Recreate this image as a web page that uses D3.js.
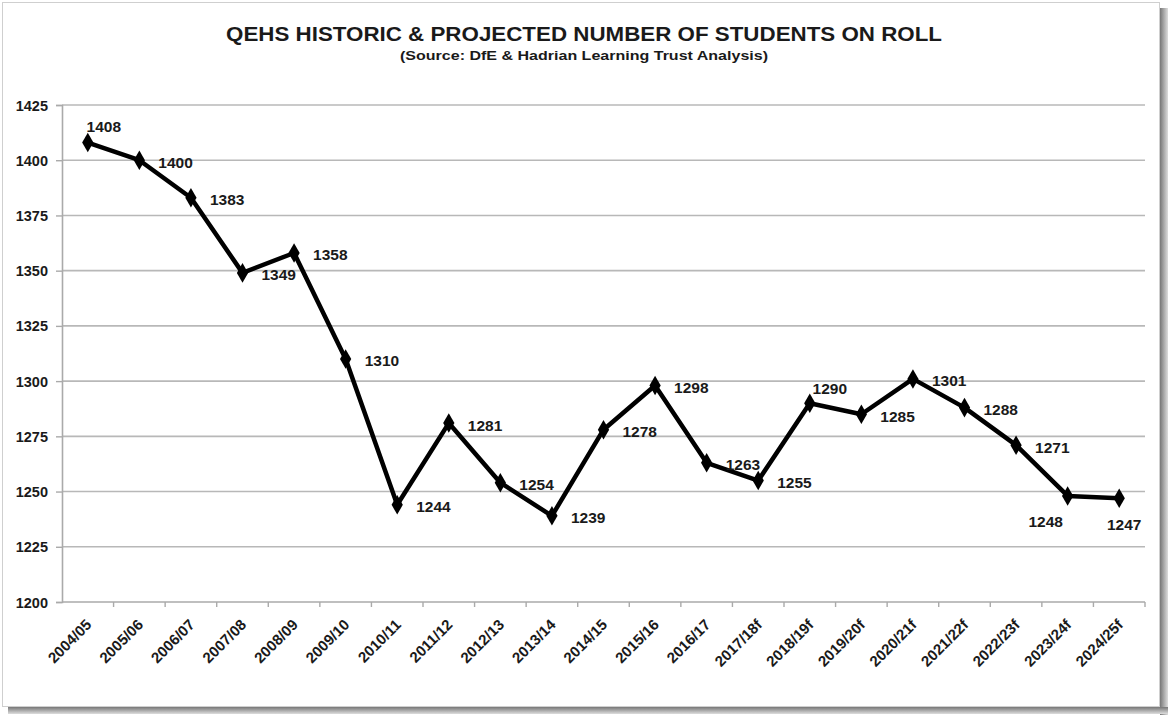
<!DOCTYPE html>
<html>
<head>
<meta charset="utf-8">
<script src="https://cdn.jsdelivr.net/npm/d3@7"></script>
<style>
  html, body { margin: 0; padding: 0; background: #fff; }
  svg { display: block; }
  text { font-family: "Liberation Sans", Arial, sans-serif; font-weight: bold; fill: #1a1a1a; }
</style>
</head>
<body>
<svg id="chart" width="1170" height="715"></svg>
<script>
// School years (f = forecast)
const years = ["2004/05","2005/06","2006/07","2007/08","2008/09","2009/10","2010/11","2011/12",
  "2012/13","2013/14","2014/15","2015/16","2016/17","2017/18f","2018/19f","2019/20f",
  "2020/21f","2021/22f","2022/23f","2023/24f","2024/25f"];
// Students on roll
const students = [1408,1400,1383,1349,1358,1310,1244,1281,1254,1239,1278,1298,1263,1255,
  1290,1285,1301,1288,1271,1248,1247];
// Y axis ticks
const yTicks = [1200,1225,1250,1275,1300,1325,1350,1375,1400,1425];

const title = "QEHS HISTORIC & PROJECTED NUMBER OF STUDENTS ON ROLL";
const subtitle = "(Source: DfE & Hadrian Learning Trust Analysis)";

const W = 1170, H = 715;
const svg = d3.select("#chart");

// Drop shadow along the right and bottom edges of the card
const defs = svg.append("defs");
const gr = defs.append("linearGradient").attr("id", "shR").attr("x1", 0).attr("x2", 1).attr("y1", 0).attr("y2", 0);
gr.append("stop").attr("offset", 0).attr("stop-color", "#777");
gr.append("stop").attr("offset", 1).attr("stop-color", "#ddd");
const gb = defs.append("linearGradient").attr("id", "shB").attr("x1", 0).attr("x2", 0).attr("y1", 0).attr("y2", 1);
gb.append("stop").attr("offset", 0).attr("stop-color", "#777");
gb.append("stop").attr("offset", 1).attr("stop-color", "#ddd");
svg.append("rect").attr("x", 1160).attr("y", 8).attr("width", 8).attr("height", 707).attr("fill", "url(#shR)");
svg.append("rect").attr("x", 8).attr("y", 707).attr("width", 1160).attr("height", 7).attr("fill", "url(#shB)");
svg.append("rect").attr("x", 2.5).attr("y", 2.5).attr("width", 1157).attr("height", 704)
  .attr("fill", "#fff").attr("stroke", "#cfcfcf").attr("stroke-width", 1);

// Titles (slightly widened lettering)
svg.append("text").attr("x", 584).attr("y", 41).attr("text-anchor", "middle")
  .style("font-size", "20.5px").attr("textLength", 716).attr("lengthAdjust", "spacingAndGlyphs")
  .text(title);
svg.append("text").attr("x", 584).attr("y", 60).attr("text-anchor", "middle")
  .style("font-size", "13.5px").attr("textLength", 368).attr("lengthAdjust", "spacingAndGlyphs")
  .text(subtitle);

// Scales
const plot = { left: 62, right: 1145, top: 105, bottom: 602 };
const x = d3.scaleBand().domain(years).range([plot.left, plot.right]);
const y = d3.scaleLinear().domain([1200, 1425]).range([plot.bottom, plot.top]);
const cx = d => x(d) + x.bandwidth() / 2;

// Horizontal gridlines
svg.append("g").selectAll("line").data(yTicks.filter(t => t > 1200)).join("line")
  .attr("x1", plot.left).attr("x2", plot.right)
  .attr("y1", d => y(d)).attr("y2", d => y(d))
  .attr("stroke", "#b8b8b8").attr("stroke-width", 1.6);

// Y axis
const yAxis = svg.append("g").attr("transform", `translate(${plot.left},0)`)
  .call(d3.axisLeft(y).tickValues(yTicks).tickSize(6).tickPadding(8).tickFormat(d3.format("d")));
yAxis.select(".domain").attr("stroke", "#aaa").attr("stroke-width", 1.6);
yAxis.selectAll(".tick line").attr("stroke", "#aaa").attr("stroke-width", 1.4);
yAxis.selectAll("text").style("font-size", "14.5px").style("font-family", "Liberation Sans, Arial, sans-serif")
  .style("font-weight", "bold").attr("fill", "#1a1a1a").attr("dy", "0.35em");

// X axis, ticks on category boundaries
const xAxis = svg.append("g").attr("transform", `translate(0,${plot.bottom})`);
xAxis.append("line").attr("x1", plot.left).attr("x2", plot.right)
  .attr("stroke", "#aaa").attr("stroke-width", 1.6);
const bounds = years.map(d => x(d)).concat([plot.right]).slice(1);
xAxis.selectAll("line.tk").data(bounds).join("line").attr("class", "tk")
  .attr("x1", d => d).attr("x2", d => d).attr("y1", 0).attr("y2", 5)
  .attr("stroke", "#aaa").attr("stroke-width", 1.4);
xAxis.selectAll("text").data(years).join("text")
  .attr("transform", d => `translate(${cx(d) + 1},${20}) rotate(-45)`)
  .attr("text-anchor", "end").attr("dy", "0.35em")
  .style("font-size", "15px").text(d => d);

// Line
const pts = years.map((d, i) => ({ year: d, v: students[i], i }));
svg.append("path").datum(pts)
  .attr("fill", "none").attr("stroke", "#000").attr("stroke-width", 4.5).attr("stroke-linejoin", "round")
  .attr("d", d3.line().x(d => cx(d.year)).y(d => y(d.v)));

// Diamond markers
svg.append("g").selectAll("path").data(pts).join("path")
  .attr("transform", d => `translate(${cx(d.year)},${y(d.v)})`)
  .attr("d", d3.symbol().type(d3.symbolDiamond).size(110))
  .attr("fill", "#000");

// Value labels: mostly to the right of each point
const place = { 0: "above", 14: "aboveRight", 19: "belowLeft", 20: "below" };
svg.append("g").selectAll("text").data(pts).join("text")
  .style("font-size", "15.5px")
  .attr("x", d => {
    const p = place[d.i], px = cx(d.year);
    if (p === "above") return px + 16;
    if (p === "aboveRight") return px + 20;
    if (p === "belowLeft") return px - 22;
    if (p === "below") return px + 5;
    return px + 19;
  })
  .attr("y", d => {
    const p = place[d.i], py = y(d.v);
    if (p === "above" ) return py - 16;
    if (p === "aboveRight") return py - 15;
    if (p === "belowLeft" || p === "below") return py + 26;
    return py + 2;
  })
  .attr("text-anchor", d => place[d.i] ? "middle" : "start")
  .attr("dy", "0.35em")
  .text(d => d.v);
</script>
</body>
</html>
